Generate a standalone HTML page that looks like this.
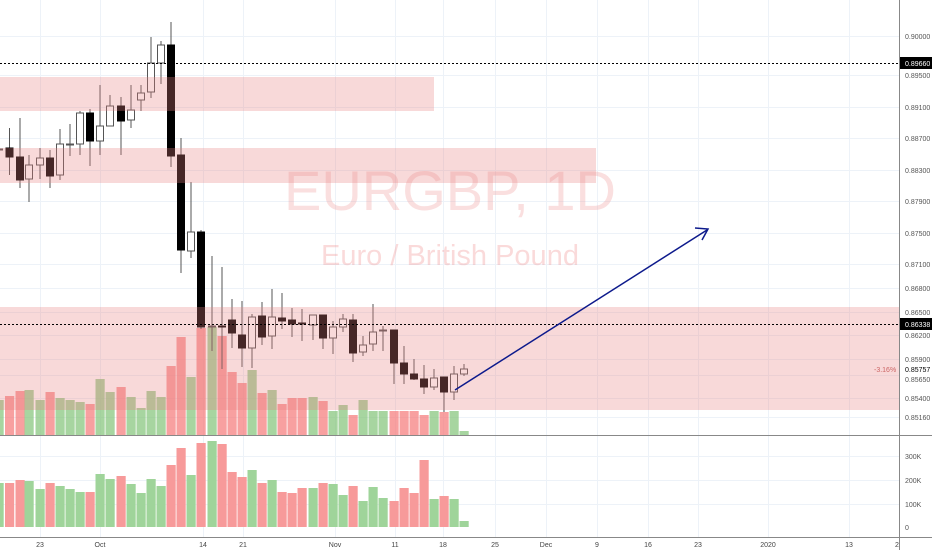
<!DOCTYPE html>
<html><head><meta charset="utf-8"><style>
body{margin:0;background:#fff;width:932px;height:550px;overflow:hidden;font-family:"Liberation Sans",sans-serif}
svg text{font-family:"Liberation Sans",sans-serif}
</style></head><body>
<svg id="s" width="932" height="550" xmlns="http://www.w3.org/2000/svg">
<g stroke="#edf2f8" stroke-width="1">
<line x1="40.5" y1="0" x2="40.5" y2="537"/><line x1="100.5" y1="0" x2="100.5" y2="537"/><line x1="203.5" y1="0" x2="203.5" y2="537"/><line x1="243.5" y1="0" x2="243.5" y2="537"/><line x1="335.5" y1="0" x2="335.5" y2="537"/><line x1="395.5" y1="0" x2="395.5" y2="537"/><line x1="443.5" y1="0" x2="443.5" y2="537"/><line x1="495.5" y1="0" x2="495.5" y2="537"/><line x1="546.5" y1="0" x2="546.5" y2="537"/><line x1="597.5" y1="0" x2="597.5" y2="537"/><line x1="648.5" y1="0" x2="648.5" y2="537"/><line x1="698.5" y1="0" x2="698.5" y2="537"/><line x1="768.5" y1="0" x2="768.5" y2="537"/><line x1="849.5" y1="0" x2="849.5" y2="537"/>
<line x1="0" y1="36.5" x2="899" y2="36.5"/><line x1="0" y1="75.5" x2="899" y2="75.5"/><line x1="0" y1="107.5" x2="899" y2="107.5"/><line x1="0" y1="138.5" x2="899" y2="138.5"/><line x1="0" y1="170.5" x2="899" y2="170.5"/><line x1="0" y1="201.5" x2="899" y2="201.5"/><line x1="0" y1="233.5" x2="899" y2="233.5"/><line x1="0" y1="264.5" x2="899" y2="264.5"/><line x1="0" y1="288.5" x2="899" y2="288.5"/><line x1="0" y1="312.5" x2="899" y2="312.5"/><line x1="0" y1="335.5" x2="899" y2="335.5"/><line x1="0" y1="359.5" x2="899" y2="359.5"/><line x1="0" y1="375.5" x2="899" y2="375.5"/><line x1="0" y1="398.5" x2="899" y2="398.5"/><line x1="0" y1="417.5" x2="899" y2="417.5"/>
<line x1="0" y1="456.5" x2="899" y2="456.5"/><line x1="0" y1="480.5" x2="899" y2="480.5"/><line x1="0" y1="504.5" x2="899" y2="504.5"/>
</g>
<text x="450" y="210" font-size="56" fill="rgba(240,150,150,0.3)" text-anchor="middle">EURGBP, 1D</text>
<text x="450" y="265" font-size="29" fill="rgba(240,150,150,0.35)" text-anchor="middle">Euro / British Pound</text>
<g id="vol"></g><g id="c"></g>
<g fill="rgba(232,130,130,0.3)">
<rect x="0" y="77" width="434" height="34"/><rect x="0" y="148" width="596" height="35"/><rect x="0" y="307" width="899" height="103"/>
</g>
<g id="bv"></g>
<line x1="0" y1="63.5" x2="899" y2="63.5" stroke="#000" stroke-dasharray="2,2"/>
<line x1="0" y1="324.5" x2="899" y2="324.5" stroke="#000" stroke-dasharray="2,2"/>
<line x1="455" y1="390" x2="707" y2="230" stroke="#0d1a8c" stroke-width="1.5"/>
<polyline points="695,228 708,229 702,240" fill="none" stroke="#0d1a8c" stroke-width="1.5"/>
<line x1="0" y1="435.5" x2="932" y2="435.5" stroke="#888"/>
<line x1="0" y1="537.5" x2="932" y2="537.5" stroke="#888"/>
<line x1="899.5" y1="0" x2="899.5" y2="550" stroke="#888"/>
<g font-size="7" fill="#555">
<text x="905" y="39">0.90000</text><text x="905" y="78">0.89500</text><text x="905" y="110">0.89100</text><text x="905" y="141">0.88700</text><text x="905" y="173">0.88300</text><text x="905" y="204">0.87900</text><text x="905" y="236">0.87500</text><text x="905" y="267">0.87100</text><text x="905" y="291">0.86800</text><text x="905" y="315">0.86500</text><text x="905" y="338">0.86200</text><text x="905" y="362">0.85900</text><text x="905" y="382">0.85650</text><text x="905" y="401">0.85400</text><text x="905" y="420">0.85160</text>
<text x="905" y="459">300K</text><text x="905" y="483">200K</text><text x="905" y="507">100K</text><text x="905" y="530">0</text>
<text x="874" y="372" fill="#c66">-3.16%</text>
<text x="905" y="372" fill="#000">0.85757</text>
</g>
<rect x="900" y="57" width="32" height="12" fill="#000"/><text x="905" y="66" font-size="7" fill="#fff">0.89660</text>
<rect x="900" y="318" width="32" height="12" fill="#000"/><text x="905" y="327" font-size="7" fill="#fff">0.86338</text>
<g font-size="7" fill="#444" text-anchor="middle">
<text x="40" y="547">23</text><text x="100" y="547">Oct</text><text x="203" y="547">14</text><text x="243" y="547">21</text><text x="335" y="547">Nov</text><text x="395" y="547">11</text><text x="443" y="547">18</text><text x="495" y="547">25</text><text x="546" y="547">Dec</text><text x="597" y="547">9</text><text x="648" y="547">16</text><text x="698" y="547">23</text><text x="768" y="547">2020</text><text x="849" y="547">13</text><text x="897" y="547">2</text>
</g>
</svg>
<script>
var D=[[-1,148,151,149,149,1],[9.5,128,175,148,157,0],[20,118,188,157,180,0],[29,155,202,165,179,1],[40,148,179,158,165,1],[50,150,188,158,176,0],[60,129,180,144,175,1],[70,124,156,144,145,1],[80,111,155,113,144,1],[90,109,166,113,141,0],[100,85,155,126,141,1],[110,95,125,106,126,1],[121,97,155,106,121,0],[131,85,128,110,120,1],[141,85,111,93,100,1],[151,37,98,63,92,1],[161,41,84,45,63,1],[171,22,167,45,156,0],[181,138,273,155,250,0],[191,182,258,232,251,1],[201,230,329,232,327,0],[212,256,351,326,327,1],[222,267,369,326,327,0],[232,299,348,320,333,0],[242,301,367,335,348,0],[252,314,368,317,348,1],[262,302,345,316,337,0],[272,289,349,317,336,1],[282,293,329,318,321,0],[292,308,337,320,324,0],[302,309,341,323,324,0],[313,315,340,315,325,1],[323,315,349,315,338,0],[333,321,354,327,338,1],[343,314,332,319,327,1],[353,314,362,320,353,0],[363,336,356,345,352,1],[373,304,351,332,344,1],[383,326,351,330,331,1],[394,330,384,330,363,0],[404,346,384,363,374,0],[414,359,380,374,379,0],[424,365,394,379,387,0],[434,369,390,378,387,1],[444,377,412,377,392,0],[454,366,400,374,392,1],[464,364,376,369,374,1]];
var V=[400,396,391,390,400,392,398,400,402,404,379,392,387,397,408,391,397,366,337,377,328,327,336,372,383,370,393,390,404,398,398,397,401,411,405,415,400,411,411,411,411,411,415,411,412,411,431];
var B=[483,483,480,481,489,483,486,489,492,492,474,479,476,484,493,479,486,465,448,475,443,441,444,472,477,470,483,480,492,493,488,488,483,484,495,486,501,487,498,501,488,493,460,499,496,499,521];
var c='',v='',b='';
D.forEach(function(d,i){var x=d[0],up=d[5];
c+='<line x1="'+x+'" y1="'+d[1]+'" x2="'+x+'" y2="'+d[2]+'" stroke="#555" stroke-width="1"/>';
var h=Math.max(1,d[4]-d[3]);
c+='<rect x="'+(x-3.5)+'" y="'+d[3]+'" width="7" height="'+h+'" fill="'+(up?'#fff':'#000')+'" stroke="'+(up?'#555':'#000')+'" stroke-width="1"/>';
var t=V[i],m=435-t;
v+='<rect x="'+(x-4.5)+'" y="'+t+'" width="9.2" height="'+m+'" fill="'+(up?'rgba(130,195,120,0.7)':'rgba(245,120,120,0.7)')+'"/>';
b+='<rect x="'+(x-4.5)+'" y="'+B[i]+'" width="9.2" height="'+(527-B[i])+'" fill="'+(up?'#9fd49a':'#f79a9a')+'"/>';
});
document.getElementById('c').innerHTML=c;document.getElementById('vol').innerHTML=v;document.getElementById('bv').innerHTML=b;
</script>
</body></html>
